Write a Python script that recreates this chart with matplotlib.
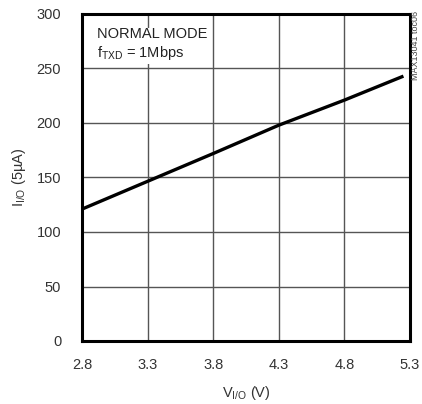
import matplotlib
matplotlib.use("Agg")
import matplotlib.pyplot as plt
from matplotlib import font_manager

names = {f.name for f in font_manager.fontManager.ttflist}
fam = "Liberation Sans Narrow" if "Liberation Sans Narrow" in names else "Liberation Sans"
plt.rcParams['font.family'] = [fam, 'DejaVu Sans']
plt.rcParams['mathtext.fontset'] = 'custom'
plt.rcParams['mathtext.rm'] = fam
plt.rcParams['mathtext.it'] = fam

v_io = [2.8, 3.3, 3.8, 4.3, 4.8, 5.25]
i_io = [121, 146.5, 172, 198, 221, 243]
x_ticks = [2.8, 3.3, 3.8, 4.3, 4.8, 5.3]
y_ticks = [0, 50, 100, 150, 200, 250, 300]

fig = plt.figure(figsize=(4.22, 4.04), dpi=100)
ax = fig.add_axes([82/422, 63/404, 328/422, 327/404])
ax.set_xlim(2.8, 5.3)
ax.set_ylim(0, 300)
ax.set_xticks(x_ticks)
ax.set_xticklabels([f"{t:.1f}" for t in x_ticks])
ax.set_yticks(y_ticks)
ax.grid(True, color='#555555', linewidth=1.0)
ax.set_axisbelow(True)
ax.tick_params(length=0, labelsize=10.5, colors='#333333', pad=0)
ax.tick_params(axis='y', pad=15)
ax.tick_params(axis='x', pad=12)
for s in ax.spines.values():
    s.set_linewidth(2.2)
    s.set_color('black')

ax.plot(v_io, i_io, color='black', linewidth=2.4, solid_capstyle='butt')

ax.set_xlabel(r"V$_{\mathrm{I/O}}$ (V)", fontsize=10.5, color='#333333', labelpad=9)
ax.set_ylabel(r"I$_{\mathrm{I/O}}$ (5µA)", fontsize=10.5, color='#333333', labelpad=6)

ax.text(0.045, 0.96, "NORMAL MODE\n" + r"f$_{\mathrm{TXD}}$ = 1Mbps", transform=ax.transAxes,
        ha='left', va='top', fontsize=10.5, color='#222222', linespacing=1.25,
        bbox=dict(facecolor='white', edgecolor='none', pad=1))

fig.text(416/422, 1 - 11/404, "MAX13041 toc06", rotation=90, ha='center', va='top',
         fontsize=6.5, color='#444444')

fig.savefig("out.png", dpi=100)
